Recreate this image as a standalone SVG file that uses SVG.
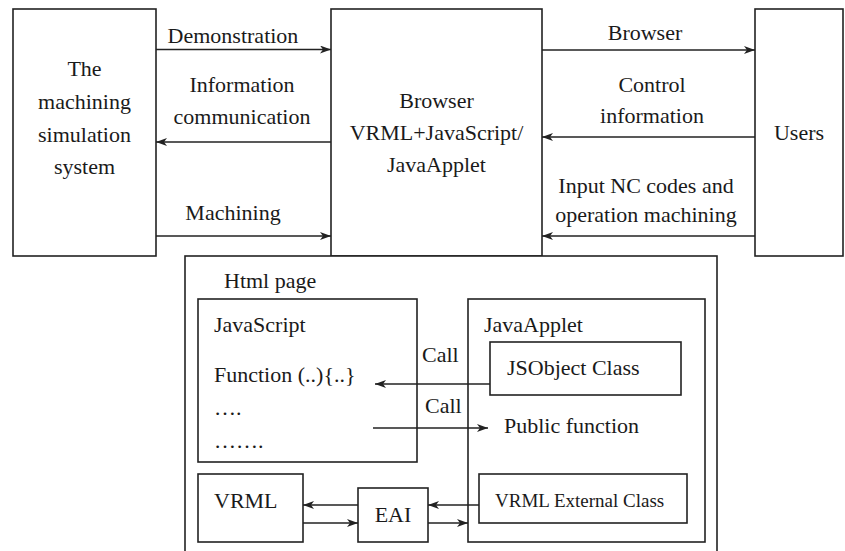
<svg xmlns="http://www.w3.org/2000/svg" width="845" height="551" viewBox="0 0 845 551">
  <style>
    .box { fill: #ffffff; stroke: #222222; stroke-width: 1.6; }
    .ln { fill: none; stroke: #222222; stroke-width: 1.5; marker-end: url(#arr); }
    text { font-family: "Liberation Serif", "Times New Roman", serif; font-size: 22px; fill: #1a1a1a; }
    .c { text-anchor: middle; }
    .sm { font-size: 19px; }
  </style>
  <defs>
    <marker id="arr" markerUnits="userSpaceOnUse" markerWidth="12" markerHeight="9" refX="11" refY="4" orient="auto">
      <path d="M0,0 L11,4 L0,8 L3,4 Z" fill="#222222"/>
    </marker>
  </defs>
  <rect width="845" height="551" fill="#ffffff"/>

  <!-- top row -->
  <g id="sim-system">
    <rect class="box" x="13" y="9" width="143" height="247"/>
    <text class="c" x="84.5" y="76">The</text>
    <text class="c" x="84.5" y="109">machining</text>
    <text class="c" x="84.5" y="142">simulation</text>
    <text class="c" x="84.5" y="174">system</text>
  </g>
  <g id="browser">
    <rect class="box" x="331" y="9" width="211" height="247"/>
    <text class="c" x="436.5" y="108">Browser</text>
    <text class="c" x="436.5" y="140">VRML+JavaScript/</text>
    <text class="c" x="436.5" y="172">JavaApplet</text>
  </g>
  <g id="users">
    <rect class="box" x="755" y="9" width="88" height="247"/>
    <text class="c" x="799" y="140">Users</text>
  </g>

  <!-- html page -->
  <g id="html-page">
    <rect class="box" x="185" y="256" width="532" height="310"/>
    <text x="224" y="288">Html page</text>
  </g>
  <g id="javascript">
    <rect class="box" x="198" y="299" width="219" height="163"/>
    <text x="214" y="332">JavaScript</text>
    <text x="214" y="382">Function (..){..}</text>
    <text x="214" y="415">….</text>
    <text x="214" y="448">…….</text>
  </g>
  <g id="javaapplet">
    <rect class="box" x="468" y="299" width="237" height="243"/>
    <text x="484" y="332">JavaApplet</text>
    <text x="504" y="433">Public function</text>
  </g>
  <g id="jsobject">
    <rect class="box" x="490" y="342" width="191" height="53"/>
    <text x="507" y="375">JSObject Class</text>
  </g>
  <g id="vrml-external">
    <rect class="box" x="479" y="474" width="208" height="49"/>
    <text class="sm" x="495" y="507">VRML External Class</text>
  </g>
  <g id="vrml">
    <rect class="box" x="198" y="474" width="105" height="68"/>
    <text x="214" y="508">VRML</text>
  </g>
  <g id="eai">
    <rect class="box" x="358" y="488" width="70" height="54"/>
    <text class="c" x="393" y="522">EAI</text>
  </g>

  <!-- connectors -->
  <g id="connectors">
    <line class="ln" x1="156" y1="49.5" x2="331" y2="49.5"/>
    <line class="ln" x1="331" y1="142" x2="156" y2="142"/>
    <line class="ln" x1="156" y1="236" x2="331" y2="236"/>
    <line class="ln" x1="542" y1="50" x2="755" y2="50"/>
    <line class="ln" x1="755" y1="137" x2="542" y2="137"/>
    <line class="ln" x1="755" y1="236" x2="542" y2="236"/>
    <line class="ln" x1="490" y1="384" x2="375" y2="384"/>
    <line class="ln" x1="373" y1="428" x2="488" y2="428"/>
    <line class="ln" x1="358" y1="505" x2="303" y2="505"/>
    <line class="ln" x1="303" y1="523" x2="358" y2="523"/>
    <line class="ln" x1="479" y1="505" x2="428" y2="505"/>
    <line class="ln" x1="428" y1="523" x2="468" y2="523"/>
  </g>

  <!-- connector labels -->
  <g id="labels">
    <text class="c" x="233" y="43">Demonstration</text>
    <text class="c" x="242" y="92">Information</text>
    <text class="c" x="242" y="124">communication</text>
    <text class="c" x="233" y="220">Machining</text>
    <text class="c" x="645" y="40">Browser</text>
    <text class="c" x="652" y="92">Control</text>
    <text class="c" x="652" y="123">information</text>
    <text class="c" x="646" y="193">Input NC codes and</text>
    <text class="c" x="646" y="222">operation machining</text>
    <text x="422" y="362">Call</text>
    <text x="425" y="413">Call</text>
  </g>
</svg>
